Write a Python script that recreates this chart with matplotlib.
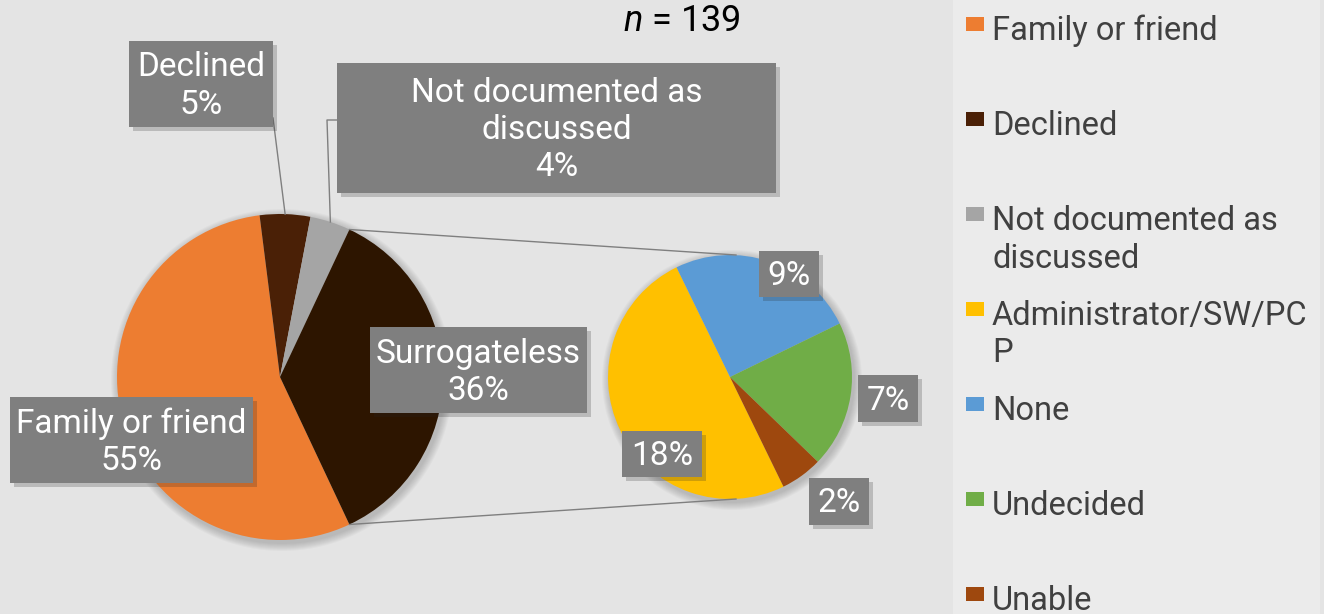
import textwrap
import matplotlib
matplotlib.use("Agg")
import matplotlib.pyplot as plt
from matplotlib.patches import Rectangle, Circle
import matplotlib.patheffects as pe
import numpy as np

# data (percent of all n = 139 patients)
main_labels = ["Family or friend", "Declined", "Not documented as discussed", "Surrogateless"]
main_values = [55, 5, 4, 36]
main_colors = ["#ED7D31", "#4A2006", "#A5A5A5", "#2D1500"]

sub_labels = ["Administrator/SW/PCP", "None", "Undecided", "Unable"]
sub_values = [18, 9, 7, 2]
sub_colors = ["#FFC000", "#5B9BD5", "#70AD47", "#9E480E"]

n_total = 139

plt.rcParams["font.family"] = ["Roboto", "DejaVu Sans"]
plt.rcParams["mathtext.fontset"] = "custom"
plt.rcParams["mathtext.it"] = "Roboto:italic"

W, H = 1324, 614
BG = "#e4e4e4"
BOX = "#7f7f7f"
LINE = "#7f7f7f"

fig = plt.figure(figsize=(W / 100, H / 100), dpi=100, facecolor=BG)
ax = fig.add_axes([0, 0, 1, 1])
ax.set_facecolor(BG)


def Y(y_px):
    # pixel row (from top) -> data y
    return H - y_px


def soft_shadow(center, r):
    # a few faint rings behind the pie, like the blurred office shadow
    for k in range(8, 0, -1):
        ax.add_patch(Circle((center[0] + 2, center[1] - 3), r + k, facecolor="black",
                            edgecolor="none", alpha=0.025, zorder=0.5))


# main pie, "other" slice centred on the right
main_c, main_r = (280, Y(377)), 163
soft_shadow(main_c, main_r)
start = -main_values[-1] * 3.6 / 2
w_main, _ = ax.pie(main_values, colors=main_colors, startangle=start, counterclock=False,
                   center=main_c, radius=main_r, frame=True,
                   wedgeprops=dict(linewidth=0))

# second pie
sub_c, sub_r = (730, Y(377)), 122
soft_shadow(sub_c, sub_r)
w_sub, _ = ax.pie(sub_values, colors=sub_colors, startangle=-64, counterclock=False,
                  center=sub_c, radius=sub_r, frame=True,
                  wedgeprops=dict(linewidth=0))


def edge(center, r, ang):
    a = np.deg2rad(ang)
    return center[0] + r * np.cos(a), center[1] + r * np.sin(a)


# connector lines from "Surrogateless" slice to second pie
surr = w_main[-1]
p_top = edge(main_c, main_r, surr.theta2)
p_bot = edge(main_c, main_r, surr.theta1)
ax.plot([p_top[0], sub_c[0] + 6], [p_top[1], sub_c[1] + sub_r], color=LINE, lw=1)
ax.plot([p_bot[0], sub_c[0] + 6], [p_bot[1], sub_c[1] - sub_r], color=LINE, lw=1)

# leader lines for the small slices
d = w_main[1]
pd = edge(main_c, main_r, (d.theta1 + d.theta2) / 2)
ax.plot([273, pd[0]], [Y(118), pd[1]], color=LINE, lw=1)
nd = w_main[2]
pn = edge(main_c, main_r, (nd.theta1 + nd.theta2) / 2)
ax.plot([337, 327, pn[0]], [Y(120), Y(120), pn[1]], color=LINE, lw=1)


def label_box(x0, y0, x1, y1, text, fs=24):
    rect = Rectangle((x0, Y(y1)), x1 - x0, y1 - y0, facecolor=BOX, edgecolor="none",
                     zorder=5)
    rect.set_path_effects([pe.SimplePatchShadow(offset=(3, -3), alpha=0.22), pe.Normal()])
    ax.add_patch(rect)
    ax.text((x0 + x1) / 2, Y((y0 + y1) / 2 + 2), text, color="white", fontsize=fs,
            ha="center", va="center", zorder=6, linespacing=1.2)


def pct(v):
    return f"{v}%"


main_boxes = [(10, 397, 253, 483), (129, 41, 273, 127), (337, 63, 776, 193), (370, 327, 587, 413)]
for (x0, y0, x1, y1), lab, v in zip(main_boxes, main_labels, main_values):
    label_box(x0, y0, x1, y1, "\n".join(textwrap.wrap(lab, 18)) + "\n" + pct(v))

sub_boxes = [(622, 431, 702, 477), (759, 251, 819, 297), (858, 375, 918, 422), (809, 478, 869, 525)]
for (x0, y0, x1, y1), v in zip(sub_boxes, sub_values):
    label_box(x0, y0, x1, y1, pct(v))

ax.text(682, Y(21), r"$n$ = " + str(n_total), fontsize=26, ha="center", va="center",
        color="black")

# legend panel
ax.add_patch(Rectangle((953, 0), 367, H, facecolor="#ebebeb", edgecolor="none", zorder=0))
leg_labels = main_labels[:3] + sub_labels
leg_colors = main_colors[:3] + sub_colors
for i, (lab, col) in enumerate(zip(leg_labels, leg_colors)):
    yc = 24 + i * 95.0
    ax.add_patch(Rectangle((966, Y(yc + 7)), 18, 14, facecolor=col, edgecolor="none"))
    ax.text(992, Y(yc - 9), "\n".join(textwrap.wrap(lab, 19)), fontsize=23.5,
            color="#404040", ha="left", va="top", linespacing=1.22)

ax.set_xlim(0, W)
ax.set_ylim(0, H)
ax.set_aspect("equal")
ax.axis("off")

fig.savefig("out.png", dpi=100, facecolor=BG)
